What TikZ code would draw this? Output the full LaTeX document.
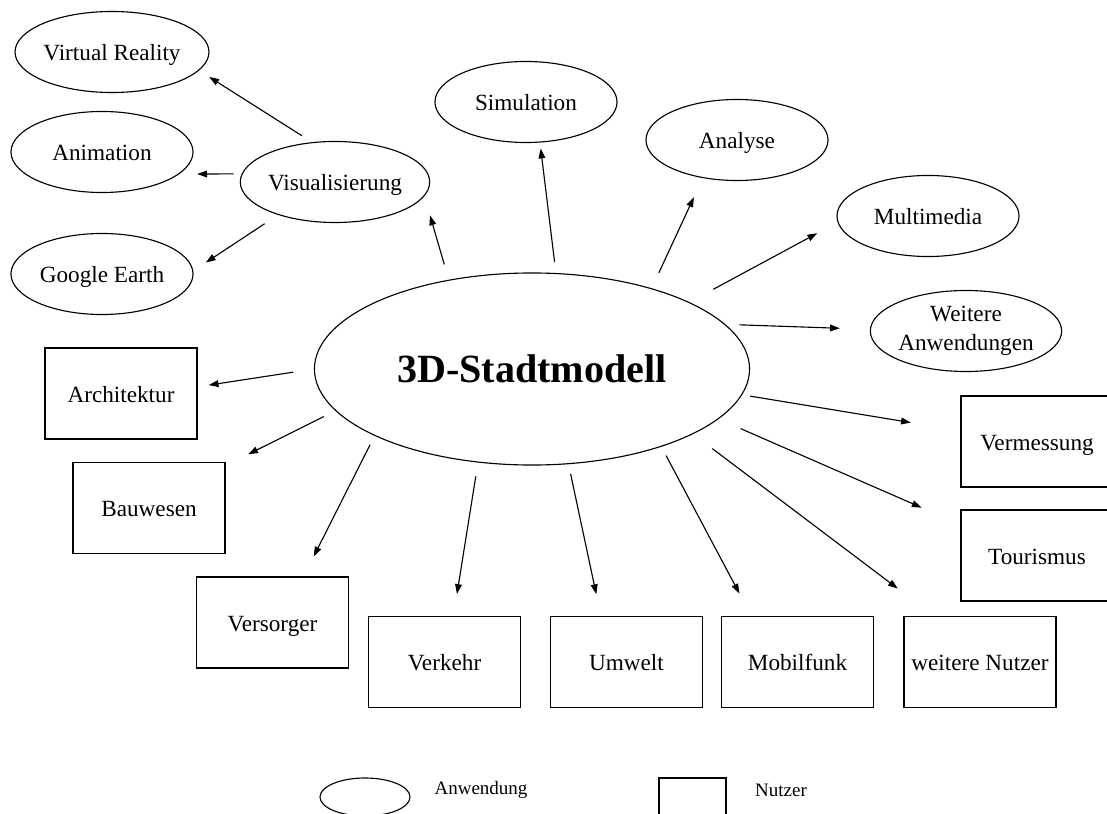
\documentclass[tikz,border=0pt]{standalone}
\usepackage{fontspec}
\setmainfont{Liberation Serif}
\usetikzlibrary{arrows.meta, shapes.geometric}
\tikzset{
  every picture/.style={line width=0.8pt},
  anw/.style={draw, ellipse, inner sep=0pt, minimum width=4.55cm, minimum height=2.025cm, align=center, text height=13.5pt, text depth=1pt, font=\fontsize{16.5}{20.5}\selectfont},
  nutzer/.style={draw, rectangle, line width=1.1pt, inner sep=0pt, minimum width=3.8cm, minimum height=2.275cm, text height=13.5pt, text depth=1pt, font=\fontsize{16.5}{20.5}\selectfont},
  arr/.style={-{Triangle[length=7pt, width=4.8pt]}},
  legtext/.style={font=\fontsize{13.5}{16}\selectfont},
}

\begin{document}
\begin{tikzpicture}[x=0.025cm, y=-0.025cm]
  \clip (0,0) rectangle (1107,814);
  \node[anw, minimum width=10.875cm, minimum height=4.8cm, text height=, text depth=, font=\fontsize{28.5}{34}\selectfont\bfseries] (main) at (532,369) {3D-Stadtmodell};
  % Anwendungen
  \foreach \n/\x/\y/\txt in {vis/335/182/Visualisierung, vr/112/52/Virtual Reality, anim/102/152/Animation, ge/102/274/Google Earth,
    sim/526/102/Simulation, ana/737/140/Analyse, multi/928/216/Multimedia}
    \node[anw] (\n) at (\x,\y) {\txt};
  \node[anw, text height=, text depth=] (weit) at (966,331) {Weitere\\Anwendungen};
  % Nutzer
  \foreach \n/\x/\y/\txt in {arch/121/393.5/Architektur, bau/149/508/Bauwesen, vers/272.5/622.5/Versorger, verk/444.5/662/Verkehr,
    umw/626.5/662/Umwelt, mob/797.5/662/Mobilfunk, wn/980/662/weitere Nutzer, verm/1037/441.5/Vermessung, tour/1037/555.5/Tourismus}
    \node[nutzer] (\n) at (\x,\y) {\txt};
  \foreach \a/\g/\dst/\b/\h in {133/16/vis/351/20, 76/11/sim/289/6, 34/17/ana/228/21, 23/27/multi/184/23, 13/14/weit/179/30,
    353/8/verm/172/50, 345/24/tour/158/42, 338/24/wn/135/45, 329/10/mob/135/25, 291/10/umw/119/22,
    240/14/verk/79/22, 203/10/vers/56/22, 192/13/bau/29/25, 180/21/arch/5/11}
    \draw[arr, shorten <=\g*0.025cm, shorten >=\h*0.025cm] (main.\a) -- (\dst.\b);
  \foreach \a/\g/\dst/\b/\h in {120/12/vr/348/12, 175/8/anim/344/18, 210/16/ge/2/15}
    \draw[arr, shorten <=\g*0.025cm, shorten >=\h*0.025cm] (vis.\a) -- (\dst.\b);
  % Legende
  \node[anw, text height=, text depth=, minimum width=2.25cm, minimum height=0.95cm] (legA) at (365,797) {};
  \node[legtext] (legAt) at (481,790) {Anwendung};
  \node[nutzer, line width=0.9pt, text height=, text depth=, minimum width=1.675cm, minimum height=1.25cm] (legN) at (692.5,803) {};
  \node[legtext] (legNt) at (781,790) {Nutzer};
\end{tikzpicture}
\end{document}
